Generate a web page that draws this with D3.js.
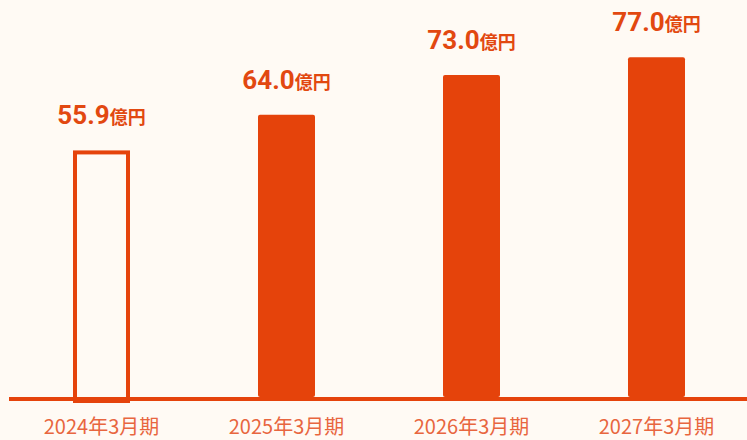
<!DOCTYPE html>
<html>
<head>
<meta charset="utf-8">
<script src="https://cdn.jsdelivr.net/npm/d3@7"></script>
<style>
  html, body { margin: 0; padding: 0; background: #fffaf4; }
  svg { display: block; }
</style>
</head>
<body>
<script>
// data of the chart
var periods = ["2024年3月期", "2025年3月期", "2026年3月期", "2027年3月期"];
var values = [55.9, 64.0, 73.0, 77.0];
var outlined = [true, false, false, false];
var unit = "億円";

var width = 747, height = 440;
var baseY = 397;
var orange = "#e5430b";

var svg = d3.select("body")
  .append("svg")
    .attr("width", width)
    .attr("height", height);

// x positions of the bar centres
var xscale = d3.scalePoint()
  .domain(periods)
  .range([9, 749])
  .padding(0.5);

var barW = 57;

// y scale
var yscale = d3.scaleLinear()
  .domain([0, 90])
  .range([baseY, 0]);

var data = periods.map(function(p, i) {
  return { period: p, value: values[i], outline: outlined[i] };
});

// bars
svg.selectAll("rect.bar")
  .data(data)
  .enter().append("rect")
    .attr("class", "bar")
    .attr("x", function(d) { return d.outline ? xscale(d.period) - barW / 2 + 2 : xscale(d.period) - barW / 2; })
    .attr("y", function(d) { return d.outline ? yscale(d.value) + 2 : yscale(d.value); })
    .attr("width", function(d) { return d.outline ? barW - 4 : barW; })
    .attr("height", function(d) { return baseY - yscale(d.value) + (d.outline ? 2 : 0); })
    .attr("rx", function(d) { return d.outline ? 0 : 2; })
    .style("fill", function(d) { return d.outline ? "#fffaf4" : orange; })
    .style("stroke", function(d) { return d.outline ? orange : "none"; })
    .style("stroke-width", 4);

// base line
svg.append("line")
  .attr("x1", 9)
  .attr("x2", width)
  .attr("y1", baseY + 2)
  .attr("y2", baseY + 2)
  .style("stroke", orange)
  .style("stroke-width", 4);

// value labels
var lab = svg.selectAll("text.value")
  .data(data)
  .enter().append("text")
    .attr("class", "value")
    .attr("x", function(d) { return xscale(d.period); })
    .attr("y", function(d) { return yscale(d.value) - 26; })
    .attr("text-anchor", "middle")
    .style("fill", "#e24810")
    .style("font-weight", "bold");

lab.append("tspan")
  .style("font-family", "Roboto, 'Liberation Sans', sans-serif")
  .style("font-size", "26px")
  .text(function(d) { return d.value.toFixed(1); });

lab.append("tspan")
  .style("font-family", "'Noto Sans CJK JP', sans-serif")
  .style("font-size", "18px")
  .text(unit);

// x axis labels
svg.selectAll("text.period")
  .data(periods)
  .enter().append("text")
    .attr("class", "period")
    .attr("x", function(d) { return xscale(d); })
    .attr("y", 434)
    .attr("text-anchor", "middle")
    .style("font-family", "'Noto Sans CJK JP', sans-serif")
    .style("font-size", "20px")
    .style("fill", "#e8663f")
    .text(function(d) { return d; });
</script>
</body>
</html>
